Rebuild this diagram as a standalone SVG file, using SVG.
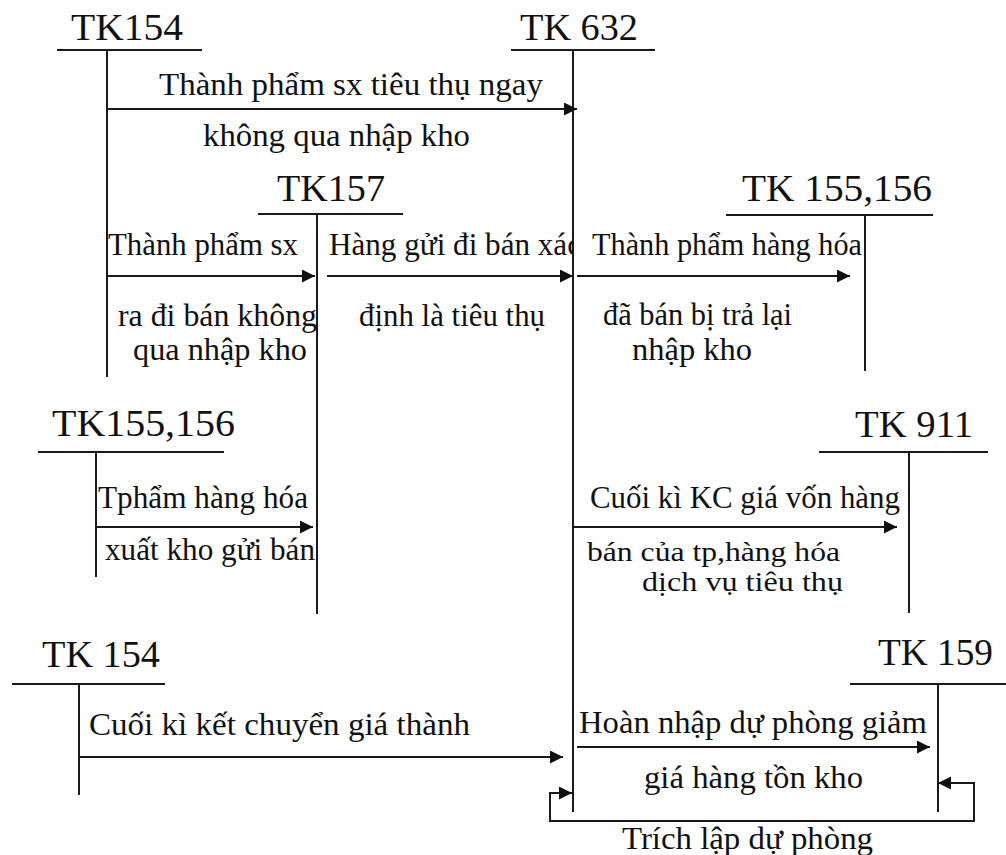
<svg xmlns="http://www.w3.org/2000/svg" width="1006" height="855" viewBox="0 0 1006 855">
  <style>
    .hd { font-family: "Liberation Serif", "Times New Roman", serif; font-size: 37px; fill: #111; }
    .lb { font-family: "Liberation Serif", "Times New Roman", serif; font-size: 31px; fill: #111; }
    .sm { font-size: 28px; }
    .ln { stroke: #1a1a1a; stroke-width: 2; fill: none; }
    .ar { stroke: #1a1a1a; stroke-width: 2; fill: none; marker-end: url(#head); }
  </style>
  <defs>
    <marker id="head" markerUnits="userSpaceOnUse" markerWidth="14" markerHeight="14" refX="13" refY="6.5" orient="auto-start-reverse">
      <path d="M0,0 L13,6.5 L0,13 Z" fill="#111"/>
    </marker>
    <clipPath id="cut632">
      <rect x="0" y="0" width="572" height="855"/>
    </clipPath>
  </defs>
  <rect width="1006" height="855" fill="#fff"/>

  <!-- T-accounts: title, top bar, vertical stem -->
  <g id="tk154-top">
    <text class="hd" x="71" y="40" textLength="112" lengthAdjust="spacingAndGlyphs">TK154</text>
    <line class="ln" x1="57" y1="50" x2="202" y2="50"/>
    <line class="ln" x1="107" y1="50" x2="107" y2="377"/>
  </g>
  <g id="tk632">
    <text class="hd" x="520" y="40" textLength="118" lengthAdjust="spacingAndGlyphs">TK 632</text>
    <line class="ln" x1="511" y1="50" x2="655" y2="50"/>
    <line class="ln" x1="573" y1="50" x2="573" y2="812"/>
  </g>
  <g id="tk157">
    <text class="hd" x="277" y="201" textLength="108" lengthAdjust="spacingAndGlyphs">TK157</text>
    <line class="ln" x1="258" y1="214" x2="403" y2="214"/>
    <line class="ln" x1="317" y1="214" x2="317" y2="614"/>
  </g>
  <g id="tk155-156-right">
    <text class="hd" x="742" y="201" textLength="190" lengthAdjust="spacingAndGlyphs">TK 155,156</text>
    <line class="ln" x1="726" y1="215" x2="933" y2="215"/>
    <line class="ln" x1="865" y1="215" x2="865" y2="371"/>
  </g>
  <g id="tk155-156-left">
    <text class="hd" x="52" y="436" textLength="183" lengthAdjust="spacingAndGlyphs">TK155,156</text>
    <line class="ln" x1="38" y1="452" x2="224" y2="452"/>
    <line class="ln" x1="96" y1="452" x2="96" y2="577"/>
  </g>
  <g id="tk911">
    <text class="hd" x="855" y="437" textLength="118" lengthAdjust="spacingAndGlyphs">TK 911</text>
    <line class="ln" x1="819" y1="452" x2="988" y2="452"/>
    <line class="ln" x1="909" y1="452" x2="909" y2="613"/>
  </g>
  <g id="tk154-bottom">
    <text class="hd" x="42" y="667" textLength="118" lengthAdjust="spacingAndGlyphs">TK 154</text>
    <line class="ln" x1="12" y1="684" x2="165" y2="684"/>
    <line class="ln" x1="79" y1="684" x2="79" y2="795"/>
  </g>
  <g id="tk159">
    <text class="hd" x="878" y="665" textLength="115" lengthAdjust="spacingAndGlyphs">TK 159</text>
    <line class="ln" x1="850" y1="684" x2="1006" y2="684"/>
    <line class="ln" x1="938" y1="684" x2="938" y2="812"/>
  </g>

  <!-- Posting arrows -->
  <g id="connectors">
    <line class="ar" x1="107" y1="109" x2="577" y2="109"/>
    <line class="ar" x1="107" y1="276" x2="315" y2="276"/>
    <line class="ar" x1="327" y1="276" x2="573" y2="276"/>
    <line class="ar" x1="577" y1="276" x2="850" y2="276"/>
    <line class="ar" x1="96" y1="527" x2="313" y2="527"/>
    <line class="ar" x1="573" y1="527" x2="897" y2="527"/>
    <line class="ar" x1="79" y1="757" x2="563" y2="757"/>
    <line class="ar" x1="577" y1="747" x2="930" y2="747"/>
    <path class="ar" d="M572,793 H550 V821 H974 V783 H938" marker-start="url(#head)"/>
  </g>

  <!-- Arrow captions -->
  <g id="labels">
    <text class="lb" x="159" y="95" textLength="384" lengthAdjust="spacingAndGlyphs">Thành phẩm sx tiêu thụ ngay</text>
    <text class="lb" x="203" y="146" textLength="267" lengthAdjust="spacingAndGlyphs">không qua nhập kho</text>

    <text class="lb" x="108" y="255" textLength="190" lengthAdjust="spacingAndGlyphs">Thành phẩm sx</text>
    <text class="lb" x="118" y="326" textLength="199" lengthAdjust="spacingAndGlyphs">ra đi bán không</text>
    <text class="lb" x="133" y="360" textLength="174" lengthAdjust="spacingAndGlyphs">qua nhập kho</text>

    <text class="lb" x="329" y="255" textLength="252" lengthAdjust="spacingAndGlyphs" clip-path="url(#cut632)">Hàng gửi đi bán xác</text>
    <text class="lb" x="359" y="326" textLength="186" lengthAdjust="spacingAndGlyphs">định là tiêu thụ</text>

    <text class="lb" x="592" y="255" textLength="270" lengthAdjust="spacingAndGlyphs">Thành phẩm hàng hóa</text>
    <text class="lb" x="603" y="325" textLength="189" lengthAdjust="spacingAndGlyphs">đã bán bị trả lại</text>
    <text class="lb" x="632" y="360" textLength="120" lengthAdjust="spacingAndGlyphs">nhập kho</text>

    <text class="lb" x="98" y="508" textLength="210" lengthAdjust="spacingAndGlyphs">Tphẩm hàng hóa</text>
    <text class="lb" x="105" y="560" textLength="210" lengthAdjust="spacingAndGlyphs">xuất kho gửi bán</text>

    <text class="lb" x="590" y="508" textLength="310" lengthAdjust="spacingAndGlyphs">Cuối kì KC giá vốn hàng</text>
    <text class="lb sm" x="587" y="561" textLength="253" lengthAdjust="spacingAndGlyphs">bán của tp,hàng hóa</text>
    <text class="lb sm" x="642" y="591" textLength="201" lengthAdjust="spacingAndGlyphs">dịch vụ tiêu thụ</text>

    <text class="lb" x="89" y="735" textLength="381" lengthAdjust="spacingAndGlyphs">Cuối kì kết chuyển giá thành</text>

    <text class="lb" x="579" y="733" textLength="348" lengthAdjust="spacingAndGlyphs">Hoàn nhập dự phòng giảm</text>
    <text class="lb" x="644" y="788" textLength="219" lengthAdjust="spacingAndGlyphs">giá hàng tồn kho</text>
    <text class="lb" x="622" y="849" textLength="251" lengthAdjust="spacingAndGlyphs">Trích lập dự phòng</text>
  </g>
</svg>
